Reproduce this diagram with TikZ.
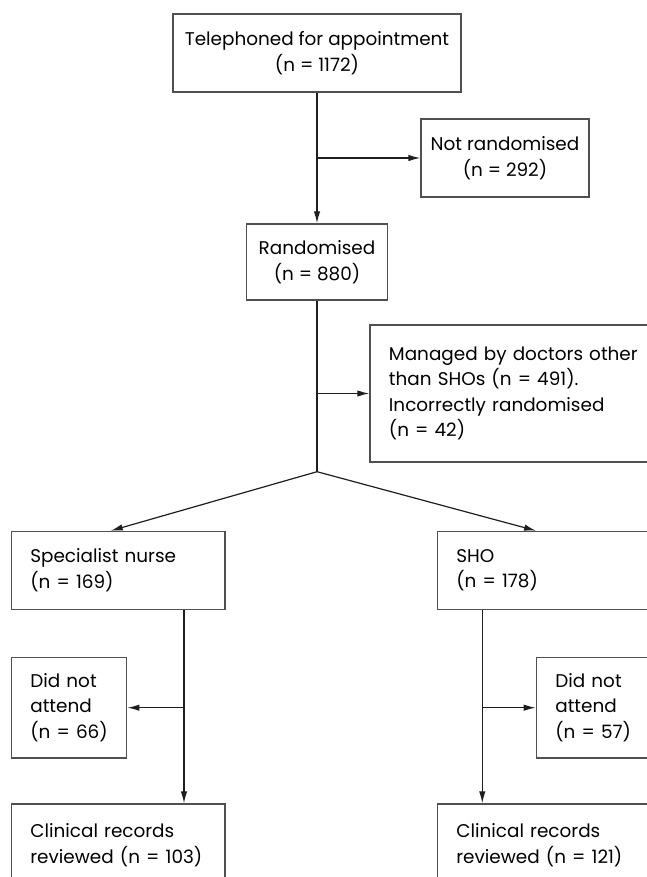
\documentclass[tikz,border=0pt]{standalone}
\usepackage{fontspec}
\setmainfont{Poppins}
\usepackage{tikz}
\usetikzlibrary{arrows.meta, positioning, calc}
\definecolor{FCline}{RGB}{80, 80, 80}
\definecolor{FCarrow}{RGB}{30, 30, 30}

\begin{document}
\begin{tikzpicture}[
    x=0.5pt, y=-0.5pt,
    >={Latex[length=6pt, width=3.2pt]},
    font=\fontsize{9.2pt}{12.75pt}\selectfont,
    midbox/.style={
        draw=FCline,
        line width=0.65pt,
        align=center,
        inner sep=0pt
    },
    leftbox/.style={
        draw=FCline,
        line width=0.65pt,
        align=left,
        anchor=west,
        inner xsep=9.5pt,
        inner ysep=0pt
    },
    flow/.style={->, draw=FCarrow, line width=0.6pt},
    link/.style={draw=FCarrow, line width=0.6pt}
]
\useasboundingbox (0,0) rectangle (647,877);
\clip (0,0) rectangle (647,877);

\node[midbox, minimum width=144pt, minimum height=39pt] (phoned) at (317,53)
{Telephoned for appointment\\(n = 1172)};

\node[midbox, minimum width=84pt, minimum height=39pt] (notrand) at (505,158)
{Not randomised\\(n = 292)};

\node[midbox, minimum width=70.3pt, minimum height=38pt] (rand) at (317,262)
{Randomised\\(n = 880)};

\node[leftbox, text width=126.4pt, minimum height=68.5pt] (managed) at (369.3,393.5)
{Managed by doctors other\\than SHOs (n = 491).\\Incorrectly randomised\\(n = 42)};

\node[leftbox, text width=87.8pt, minimum height=39pt] (nurse) at (10.7,570.4)
{Specialist nurse\\(n = 169)};

\node[leftbox, text width=92.7pt, minimum height=39pt] (sho) at (436.7,570.4)
{SHO\\(n = 178)};

\node[leftbox, text width=38.7pt, minimum height=50.4pt] (dnaL) at (10.7,707.7)
{Did not\\attend\\\mbox{(n = 66)}};

\node[leftbox, text width=43pt, minimum height=50.4pt] (dnaR) at (535.7,707.7)
{Did not\\attend\\\mbox{(n = 57)}};

\node[leftbox, text width=87.8pt, minimum height=41pt] (recL) at (10.7,845)
{Clinical records\\reviewed (n = 103)};

\node[leftbox, text width=92.7pt, minimum height=41pt] (recR) at (436.7,845)
{Clinical records\\reviewed (n = 121)};

\coordinate (cutA) at (phoned.south |- notrand.west);
\coordinate (cutB) at (rand.south |- managed.west);
\coordinate (split) at (317,471.7);
\coordinate (nurseline) at ([xshift=-20.8pt]nurse.south east);
\coordinate (sholine) at ([xshift=22.8pt]sho.south west);

\draw[flow] (phoned.south) -- (rand.north);
\draw[flow] (cutA) -- (notrand.west);

\draw[link] (rand.south) -- (split);
\draw[flow] (cutB) -- (managed.west);
\draw[flow] (split) -- ([xshift=-3.7pt]nurse.north);
\draw[flow] (split) -- ([xshift=-6.5pt]sho.north);

\draw[flow] (nurseline) -- (nurseline |- recL.north);
\draw[flow] (nurseline |- dnaL.east) -- (dnaL.east);

\draw[flow] (sholine) -- (sholine |- recR.north);
\draw[flow] (sholine |- dnaR.west) -- (dnaR.west);

\end{tikzpicture}
\end{document}
